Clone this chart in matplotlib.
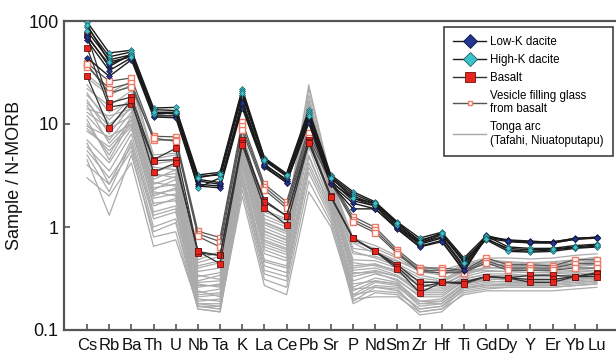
import matplotlib
matplotlib.use("Agg")
import matplotlib.pyplot as plt
from matplotlib.lines import Line2D

plt.rcParams['font.family'] = ['Liberation Sans', 'DejaVu Sans']

elements = ["Cs", "Rb", "Ba", "Th", "U", "Nb", "Ta", "K", "La", "Ce", "Pb", "Sr",
            "P", "Nd", "Sm", "Zr", "Hf", "Ti", "Gd", "Dy", "Y", "Er", "Yb", "Lu"]

# Tonga arc (Tafahi, Niuatoputapu) - grey reference field
tonga_arc = [
    [28, 19, 24, 4.6, 5.0, 0.48, 0.58, 8.2, 1.45, 1.20, 24, 2.9, 0.78, 0.66, 0.52, 0.42, 0.38, 0.44, 0.50, 0.50, 0.49, 0.50, 0.53, 0.55],
    [22, 15, 21, 4.1, 4.4, 0.42, 0.47, 7.6, 1.30, 1.05, 19, 2.7, 0.62, 0.58, 0.47, 0.37, 0.34, 0.41, 0.46, 0.45, 0.44, 0.45, 0.47, 0.50],
    [19, 11, 18, 3.4, 4.0, 0.37, 0.40, 7.1, 1.12, 0.92, 16, 2.5, 0.55, 0.52, 0.44, 0.34, 0.31, 0.39, 0.43, 0.42, 0.41, 0.42, 0.44, 0.46],
    [16, 9.5, 16, 3.1, 3.3, 0.33, 0.36, 6.3, 1.05, 0.86, 14, 2.4, 0.48, 0.47, 0.40, 0.30, 0.29, 0.37, 0.40, 0.40, 0.39, 0.40, 0.42, 0.44],
    [14, 12, 14, 2.6, 3.1, 0.29, 0.30, 5.8, 0.90, 0.76, 12, 2.2, 0.42, 0.44, 0.37, 0.28, 0.27, 0.35, 0.41, 0.39, 0.38, 0.39, 0.41, 0.43],
    [12, 7.0, 13, 2.4, 2.6, 0.26, 0.28, 5.2, 0.80, 0.66, 10, 2.1, 0.38, 0.40, 0.34, 0.25, 0.25, 0.33, 0.37, 0.37, 0.36, 0.37, 0.38, 0.40],
    [10, 5.0, 12, 2.1, 2.3, 0.23, 0.25, 4.6, 0.72, 0.60, 8.5, 1.9, 0.33, 0.37, 0.33, 0.23, 0.23, 0.31, 0.35, 0.35, 0.34, 0.35, 0.36, 0.38],
    [8.5, 6.0, 10, 1.9, 2.1, 0.21, 0.22, 4.2, 0.64, 0.54, 7.0, 1.8, 0.30, 0.35, 0.31, 0.21, 0.21, 0.30, 0.33, 0.34, 0.33, 0.33, 0.35, 0.36],
    [7.0, 4.2, 9.0, 1.6, 1.9, 0.19, 0.20, 3.8, 0.55, 0.47, 6.0, 1.6, 0.26, 0.32, 0.29, 0.19, 0.20, 0.28, 0.31, 0.32, 0.31, 0.31, 0.33, 0.34],
    [6.0, 3.5, 8.0, 1.4, 1.6, 0.18, 0.18, 3.4, 0.48, 0.42, 5.0, 1.5, 0.22, 0.29, 0.27, 0.17, 0.18, 0.27, 0.29, 0.30, 0.29, 0.30, 0.31, 0.32],
    [5.0, 2.2, 6.5, 1.2, 1.4, 0.17, 0.16, 3.0, 0.42, 0.36, 4.2, 1.4, 0.19, 0.26, 0.25, 0.15, 0.16, 0.25, 0.27, 0.28, 0.28, 0.28, 0.29, 0.30],
    [4.5, 1.3, 5.0, 0.9, 1.1, 0.16, 0.15, 2.6, 0.35, 0.30, 3.4, 1.2, 0.18, 0.23, 0.22, 0.14, 0.15, 0.23, 0.25, 0.26, 0.26, 0.26, 0.27, 0.28],
    [3.0, 2.0, 4.2, 0.65, 0.75, 0.17, 0.16, 2.0, 0.27, 0.22, 2.2, 1.0, 0.20, 0.21, 0.21, 0.15, 0.16, 0.22, 0.24, 0.24, 0.24, 0.24, 0.25, 0.26],
    [24, 13, 17, 3.8, 3.6, 0.40, 0.45, 6.8, 1.20, 1.00, 17, 2.6, 0.70, 0.55, 0.46, 0.40, 0.35, 0.42, 0.47, 0.44, 0.43, 0.42, 0.44, 0.45],
    [17, 8.0, 15, 2.9, 3.6, 0.30, 0.34, 6.0, 0.98, 0.80, 13, 2.3, 0.45, 0.42, 0.36, 0.27, 0.26, 0.36, 0.38, 0.37, 0.36, 0.36, 0.37, 0.38],
    [13, 9.0, 12, 2.3, 2.9, 0.27, 0.27, 5.4, 0.85, 0.70, 11, 2.0, 0.36, 0.36, 0.30, 0.22, 0.22, 0.30, 0.31, 0.31, 0.30, 0.30, 0.31, 0.32],
    [11, 4.5, 11, 2.2, 2.0, 0.24, 0.21, 4.9, 0.68, 0.57, 9.0, 1.7, 0.24, 0.30, 0.28, 0.18, 0.19, 0.28, 0.30, 0.29, 0.29, 0.29, 0.30, 0.31],
    [9.0, 5.5, 9.5, 1.7, 1.8, 0.20, 0.19, 4.0, 0.60, 0.50, 7.5, 1.7, 0.21, 0.27, 0.26, 0.18, 0.18, 0.26, 0.27, 0.27, 0.27, 0.27, 0.28, 0.29],
    [6.5, 2.6, 7.0, 1.3, 1.5, 0.18, 0.17, 3.2, 0.46, 0.40, 4.8, 1.5, 0.28, 0.30, 0.28, 0.19, 0.19, 0.29, 0.31, 0.31, 0.30, 0.31, 0.32, 0.33],
    [5.5, 3.0, 6.0, 1.0, 1.2, 0.17, 0.17, 2.8, 0.38, 0.33, 3.8, 1.3, 0.25, 0.26, 0.24, 0.16, 0.17, 0.26, 0.28, 0.28, 0.28, 0.28, 0.29, 0.30],
    [20, 10, 14, 3.3, 3.0, 0.34, 0.31, 6.6, 1.10, 0.90, 15, 2.4, 0.58, 0.50, 0.42, 0.32, 0.30, 0.38, 0.44, 0.43, 0.42, 0.43, 0.45, 0.47],
    [15, 6.5, 11, 2.7, 2.5, 0.28, 0.26, 5.6, 0.92, 0.74, 12, 2.1, 0.35, 0.38, 0.33, 0.24, 0.24, 0.32, 0.34, 0.33, 0.33, 0.33, 0.34, 0.35],
    [4.0, 2.6, 5.5, 0.8, 0.9, 0.16, 0.15, 2.3, 0.31, 0.26, 2.8, 1.1, 0.22, 0.24, 0.23, 0.16, 0.17, 0.24, 0.26, 0.26, 0.26, 0.26, 0.27, 0.28],
    [9.5, 7.5, 10, 2.0, 2.4, 0.22, 0.23, 4.4, 0.75, 0.62, 8.0, 1.8, 0.40, 0.43, 0.38, 0.30, 0.28, 0.34, 0.40, 0.41, 0.41, 0.42, 0.44, 0.46],
    [30, 20, 26, 5.0, 5.2, 0.45, 0.52, 8.5, 1.40, 1.15, 22, 2.8, 0.72, 0.62, 0.50, 0.38, 0.35, 0.43, 0.48, 0.46, 0.45, 0.46, 0.48, 0.51],
]

basalt = [
    [73, 16, 18.3, 4.5, 5.8, 0.58, 0.53, 7.0, 1.82, 1.28, 7.0, 2.0, 0.78, 0.58, 0.43, 0.29, 0.29, 0.29, 0.33, 0.32, 0.34, 0.34, 0.33, 0.36],
    [55, 14.6, 15.8, 4.4, 4.5, 0.56, 0.53, 6.6, 1.75, 1.28, 6.7, 1.95, 0.78, 0.58, 0.41, 0.26, 0.29, 0.29, 0.33, 0.32, 0.31, 0.31, 0.33, 0.35],
    [29, 9.1, 17, 3.4, 4.2, 0.58, 0.44, 6.3, 1.52, 1.05, 6.5, 1.95, 0.78, 0.58, 0.39, 0.23, 0.29, 0.28, 0.33, 0.32, 0.29, 0.29, 0.33, 0.33],
]

vesicle_glass = [
    [39, 26, 28, 7.6, 7.5, 0.91, 0.79, 10.5, 2.6, 1.75, 9.1, 2.9, 1.26, 0.99, 0.60, 0.40, 0.40, 0.38, 0.50, 0.43, 0.43, 0.42, 0.48, 0.48],
    [36, 22, 25, 7.0, 7.0, 0.86, 0.72, 9.5, 2.45, 1.62, 8.2, 2.8, 1.18, 0.93, 0.57, 0.38, 0.38, 0.37, 0.47, 0.40, 0.40, 0.40, 0.44, 0.44],
    [38, 20, 23, 7.3, 6.8, 0.81, 0.64, 8.7, 2.3, 1.52, 7.3, 2.7, 1.12, 0.88, 0.55, 0.37, 0.36, 0.36, 0.45, 0.38, 0.38, 0.38, 0.40, 0.40],
]

low_k_dacite = [
    [73, 36, 48, 13, 12.5, 2.8, 2.6, 17, 4.1, 2.8, 11, 2.7, 1.9, 1.6, 1.0, 0.68, 0.78, 0.40, 0.80, 0.74, 0.72, 0.72, 0.77, 0.80],
    [65, 33, 44, 12, 12, 2.6, 2.5, 15, 3.9, 2.7, 10.5, 2.6, 1.5, 1.5, 0.97, 0.65, 0.74, 0.37, 0.81, 0.75, 0.73, 0.71, 0.78, 0.79],
    [44, 29, 42, 11.7, 11.5, 2.5, 2.4, 14.3, 3.8, 2.7, 10.2, 2.6, 1.7, 1.5, 0.95, 0.64, 0.72, 0.38, 0.78, 0.72, 0.70, 0.70, 0.76, 0.78],
    [70, 38, 46, 12.5, 12.8, 2.9, 2.7, 16, 4.0, 2.9, 11.5, 2.8, 1.8, 1.6, 1.0, 0.70, 0.80, 0.42, 0.83, 0.73, 0.71, 0.70, 0.76, 0.79],
]

high_k_dacite = [
    [98, 49, 52, 14.3, 14.5, 3.2, 3.4, 22, 4.7, 3.3, 13.7, 3.2, 2.2, 1.75, 1.12, 0.78, 0.89, 0.50, 0.82, 0.64, 0.62, 0.62, 0.66, 0.68],
    [87, 45, 50, 13.8, 13.5, 3.1, 3.2, 21, 4.6, 3.2, 13, 3.1, 2.1, 1.7, 1.08, 0.74, 0.86, 0.48, 0.78, 0.60, 0.58, 0.60, 0.63, 0.65],
    [80, 42, 47, 12.5, 12.8, 2.4, 3.0, 19, 4.4, 3.1, 12.5, 3.0, 2.0, 1.65, 1.05, 0.70, 0.84, 0.46, 0.75, 0.58, 0.57, 0.58, 0.62, 0.64],
    [92, 40, 45, 13, 13, 3.0, 3.3, 20, 4.5, 3.2, 12, 3.0, 1.9, 1.7, 1.10, 0.72, 0.87, 0.45, 0.76, 0.62, 0.60, 0.61, 0.64, 0.67],
]

legend_labels = ["Low-K dacite", "High-K dacite", "Basalt",
                 "Vesicle filling glass\nfrom basalt", "Tonga arc\n(Tafahi, Niuatoputapu)"]

fig = plt.figure(figsize=(6.16, 3.58), dpi=100)
ax = fig.add_axes([64/616, 28/358, 552/616, 309/358])
x = list(range(len(elements)))

for row in tonga_arc:
    ax.plot(x, row, color='#ababab', lw=0.9, zorder=1)

for row in vesicle_glass:
    ax.plot(x, row, color='#555555', lw=0.9, marker='s', ms=4.2,
            mfc='white', mec='#f07a68', mew=1.0, zorder=3)
for row in basalt:
    ax.plot(x, row, color='#333333', lw=0.9, marker='s', ms=5,
            mfc='#e8241c', mec='#6a1010', mew=0.6, zorder=3)
for row in low_k_dacite:
    ax.plot(x, row, color='#1a1a1a', lw=1.0, marker='D', ms=3.0,
            mfc='#24358f', mec='#101840', mew=0.5, zorder=4)
for row in high_k_dacite:
    ax.plot(x, row, color='#1a1a1a', lw=1.0, marker='D', ms=3.0,
            mfc='#3cc3cc', mec='#1d5e66', mew=0.5, zorder=4)

ax.set_yscale('log')
ax.set_ylim(0.1, 100)
ax.set_xlim(-1.04, 23.86)
ax.set_xticks(x)
ax.set_xticklabels(elements)
ax.set_yticks([0.1, 1, 10, 100])
ax.set_yticklabels(["0.1", "1", "10", "100"])
ax.minorticks_off()
ax.tick_params(axis='both', direction='in', length=4, width=1.2, color='#555555',
               labelsize=13, labelcolor='#111111')
ax.tick_params(axis='x', pad=6, labelsize=12)
ax.tick_params(axis='y', pad=4)
for s in ['left', 'bottom', 'top']:
    ax.spines[s].set_linewidth(1.6)
    ax.spines[s].set_color('#555555')
ax.spines['right'].set_visible(False)
ax.set_ylabel("Sample / N-MORB", fontsize=13, color='#111111', labelpad=4)

handles = [
    Line2D([], [], color='#1a1a1a', lw=1.0, marker='D', ms=7.5, mfc='#24358f', mec='#101840', mew=0.6),
    Line2D([], [], color='#1a1a1a', lw=1.0, marker='D', ms=7.5, mfc='#3cc3cc', mec='#1d5e66', mew=0.6),
    Line2D([], [], color='#333333', lw=1.0, marker='s', ms=7, mfc='#e8241c', mec='#6a1010', mew=0.6),
    Line2D([], [], color='#555555', lw=1.0, marker='s', ms=3.5, mfc='white', mec='#f07a68', mew=1.0),
    Line2D([], [], color='#a8a8a8', lw=1.0),
]
leg = ax.legend(handles, legend_labels, loc='upper right', bbox_to_anchor=(0.9946, 0.9806),
                borderaxespad=0, fontsize=8.3, frameon=True, fancybox=False,
                handlelength=2.8, handletextpad=0.4, labelspacing=0.5, borderpad=0.8)
leg.get_frame().set_edgecolor('#111111')
leg.get_frame().set_linewidth(1.2)

fig.savefig("out.png", dpi=100)
